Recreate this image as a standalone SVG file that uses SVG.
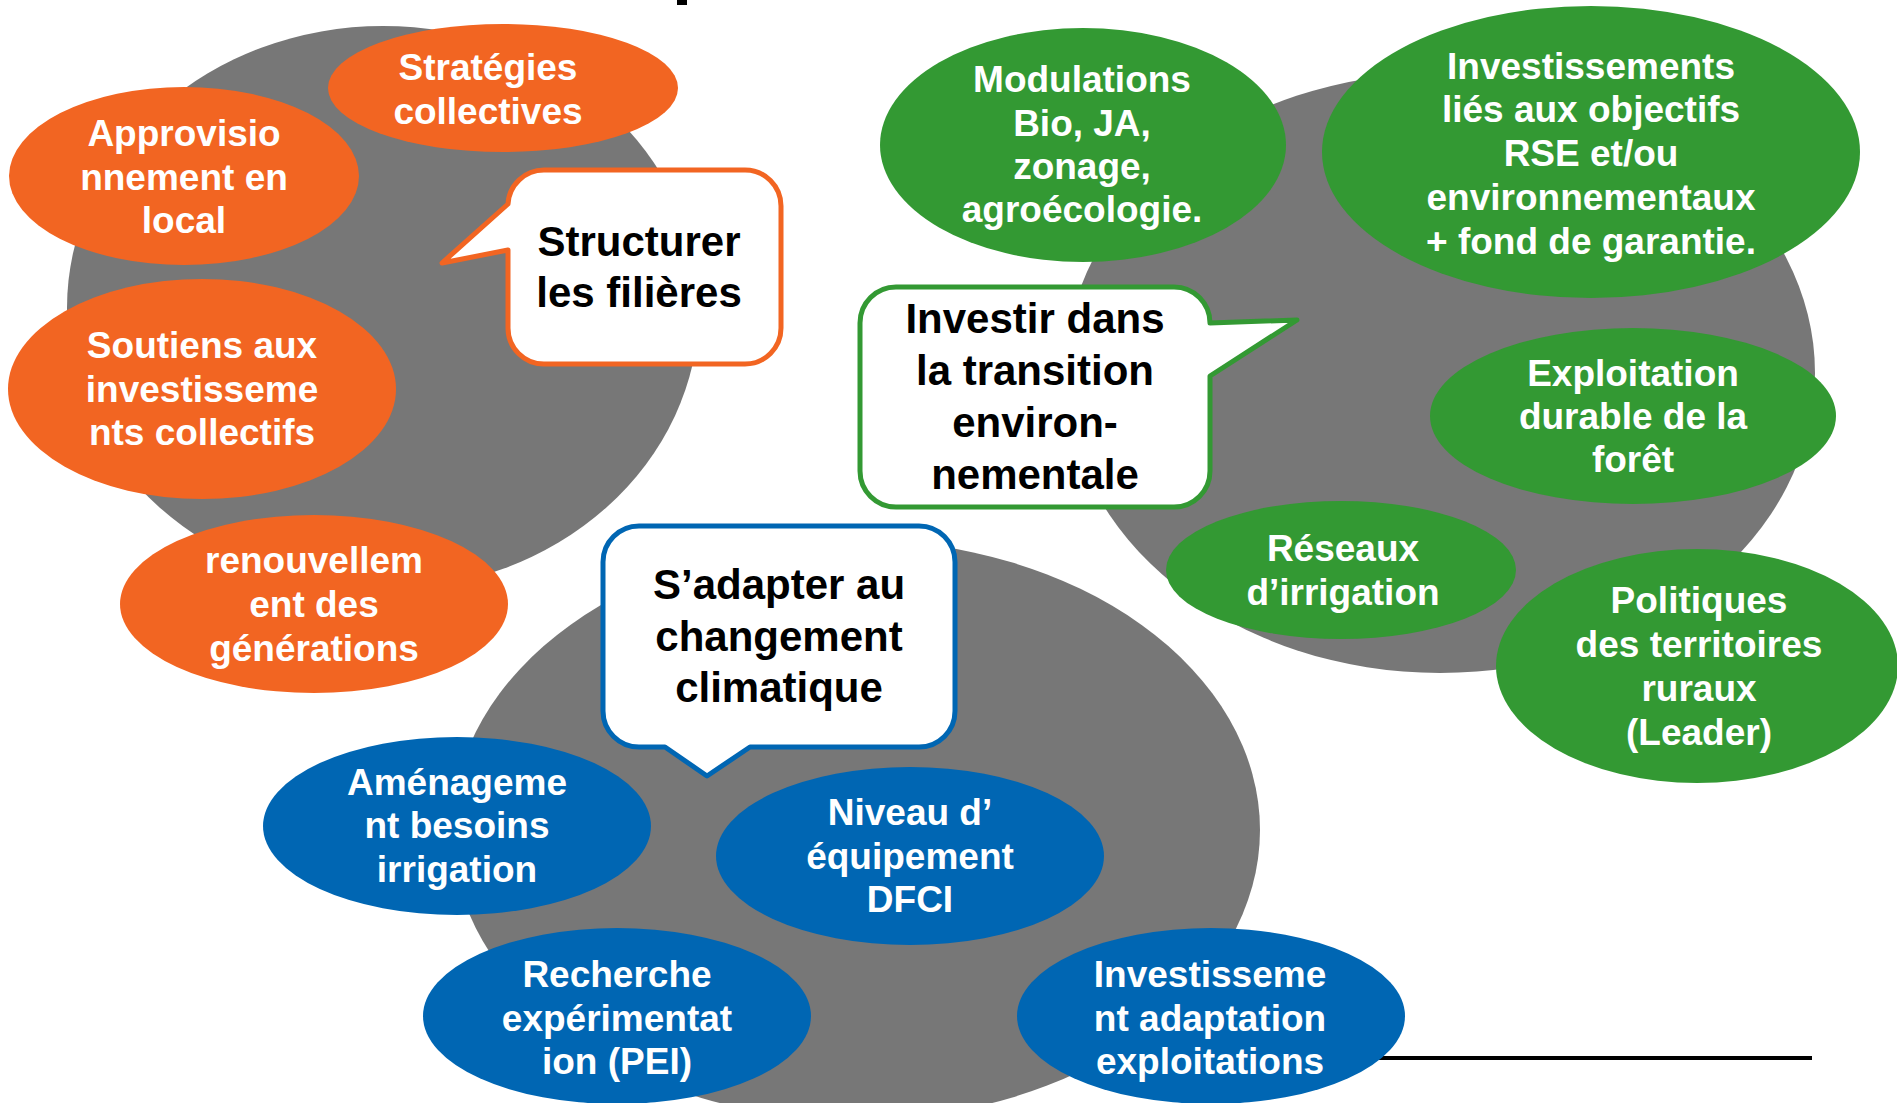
<svg xmlns="http://www.w3.org/2000/svg" width="1897" height="1103" viewBox="0 0 1897 1103">
<style>
.bg{fill:#777777}
.or{fill:#F26522}
.gr{fill:#339933}
.bl{fill:#0066B3}
.t{font-family:"Liberation Sans",Arial,sans-serif;font-weight:bold;font-size:37px;fill:#ffffff;text-anchor:middle}
.c{font-family:"Liberation Sans",Arial,sans-serif;font-weight:bold;font-size:42px;fill:#000000;text-anchor:middle}
.co{fill:#ffffff;stroke-width:5;stroke-linejoin:round}
</style>
<rect width="1897" height="1103" fill="#ffffff"/>
<rect x="677" y="0" width="10" height="5" fill="#000000"/>
<g id="connectors">
<line x1="1300" y1="1058" x2="1812" y2="1058" stroke="#000000" stroke-width="4"/>
</g>
<g id="group-filieres-bg"><ellipse class="bg" cx="383" cy="308" rx="316" ry="282"/></g>
<g id="group-transition-bg"><ellipse class="bg" cx="1440" cy="373" rx="375" ry="300"/></g>
<g id="group-climat-bg"><ellipse class="bg" cx="856" cy="830" rx="404" ry="290"/></g>

<g id="n-strategies"><ellipse class="or" cx="503" cy="88" rx="175" ry="64"/>
<text class="t" x="488" y="80">Stratégies</text><text class="t" x="488" y="124">collectives</text></g>
<g id="n-approvisionnement"><ellipse class="or" cx="184" cy="176" rx="175" ry="89"/>
<text class="t" x="184" y="146">Approvisio</text><text class="t" x="184" y="190">nnement en</text><text class="t" x="184" y="233">local</text></g>
<g id="n-soutiens"><ellipse class="or" cx="202" cy="389" rx="194" ry="110"/>
<text class="t" x="202" y="358">Soutiens aux</text><text class="t" x="202" y="402">investisseme</text><text class="t" x="202" y="445">nts collectifs</text></g>
<g id="n-renouvellement"><ellipse class="or" cx="314" cy="604" rx="194" ry="89"/>
<text class="t" x="314" y="573">renouvellem</text><text class="t" x="314" y="617">ent des</text><text class="t" x="314" y="661">générations</text></g>

<g id="callout-structurer">
<path class="co" stroke="#F26522" d="M544 170 H745 A36 36 0 0 1 781 206 V328 A36 36 0 0 1 745 364 H544 A36 36 0 0 1 508 328 V250 L442 263 L508 204 A36 36 0 0 1 544 170 Z"/>
<text class="c" x="639" y="256">Structurer</text><text class="c" x="639" y="307">les filières</text></g>

<g id="n-modulations"><ellipse class="gr" cx="1083" cy="145" rx="203" ry="117"/>
<text class="t" x="1082" y="92">Modulations</text><text class="t" x="1082" y="136">Bio, JA,</text><text class="t" x="1082" y="179">zonage,</text><text class="t" x="1082" y="222">agroécologie.</text></g>
<g id="n-investissements-rse"><ellipse class="gr" cx="1591" cy="152" rx="269" ry="146"/>
<text class="t" x="1591" y="79">Investissements</text><text class="t" x="1591" y="122">liés aux objectifs</text><text class="t" x="1591" y="166">RSE et/ou</text><text class="t" x="1591" y="210">environnementaux</text><text class="t" x="1591" y="254">+ fond de garantie.</text></g>
<g id="n-foret"><ellipse class="gr" cx="1633" cy="416" rx="203" ry="88"/>
<text class="t" x="1633" y="386">Exploitation</text><text class="t" x="1633" y="429">durable de la</text><text class="t" x="1633" y="472">forêt</text></g>
<g id="n-reseaux"><ellipse class="gr" cx="1341" cy="570" rx="175" ry="69"/>
<text class="t" x="1343" y="561">Réseaux</text><text class="t" x="1343" y="605">d’irrigation</text></g>
<g id="n-politiques"><ellipse class="gr" cx="1697" cy="666" rx="201" ry="117"/>
<text class="t" x="1699" y="613">Politiques</text><text class="t" x="1699" y="657">des territoires</text><text class="t" x="1699" y="701">ruraux</text><text class="t" x="1699" y="745">(Leader)</text></g>

<g id="callout-transition">
<path class="co" stroke="#339933" d="M896 287 H1174 A36 36 0 0 1 1210 323 L1297 320 L1210 376 V471 A36 36 0 0 1 1174 507 H896 A36 36 0 0 1 860 471 V323 A36 36 0 0 1 896 287 Z"/>
<text class="c" x="1035" y="333">Investir dans</text><text class="c" x="1035" y="385">la transition</text><text class="c" x="1035" y="437">environ-</text><text class="c" x="1035" y="489">nementale</text></g>

<g id="n-amenagement"><ellipse class="bl" cx="457" cy="826" rx="194" ry="89"/>
<text class="t" x="457" y="795">Aménageme</text><text class="t" x="457" y="838">nt besoins</text><text class="t" x="457" y="882">irrigation</text></g>
<g id="n-niveau"><ellipse class="bl" cx="910" cy="856" rx="194" ry="89"/>
<text class="t" x="910" y="825">Niveau d’</text><text class="t" x="910" y="869">équipement</text><text class="t" x="910" y="912">DFCI</text></g>
<g id="n-recherche"><ellipse class="bl" cx="617" cy="1016" rx="194" ry="88"/>
<text class="t" x="617" y="987">Recherche</text><text class="t" x="617" y="1031">expérimentat</text><text class="t" x="617" y="1074">ion (PEI)</text></g>
<g id="n-investissement-adaptation"><ellipse class="bl" cx="1211" cy="1016" rx="194" ry="88"/>
<text class="t" x="1210" y="987">Investisseme</text><text class="t" x="1210" y="1031">nt adaptation</text><text class="t" x="1210" y="1074">exploitations</text></g>

<g id="callout-climat">
<path class="co" stroke="#0066B3" d="M639 526 H919 A36 36 0 0 1 955 562 V711 A36 36 0 0 1 919 747 H750 L707 776 L665 747 H639 A36 36 0 0 1 603 711 V562 A36 36 0 0 1 639 526 Z"/>
<text class="c" x="779" y="599">S’adapter au</text><text class="c" x="779" y="651">changement</text><text class="c" x="779" y="702">climatique</text></g>
</svg>
